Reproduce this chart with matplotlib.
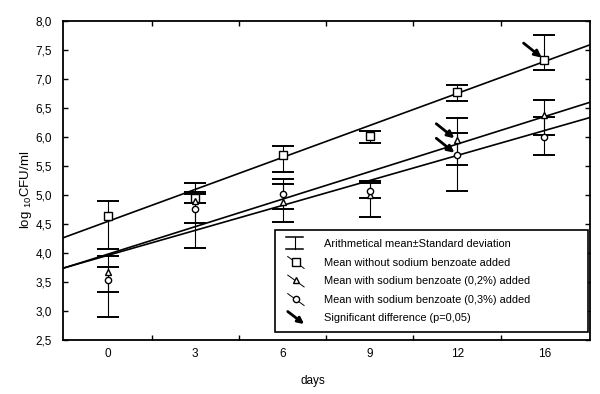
import numpy as np
import matplotlib
matplotlib.use('Agg')
import matplotlib.pyplot as plt
from matplotlib.lines import Line2D
from matplotlib.patches import FancyArrowPatch
from matplotlib.legend_handler import HandlerBase
from matplotlib.ticker import FuncFormatter, MultipleLocator, FixedLocator

plt.rcParams['font.family'] = ['Liberation Sans', 'DejaVu Sans']

days = ['0', '3', '6', '9', '12', '16']

# mean and lower/upper end of the bars (log10 CFU/ml)
no_sb_mean = [4.64, 4.95, 5.69, 6.02, 6.78, 7.33]
no_sb_lo = [4.07, 4.87, 5.39, 5.89, 6.62, 7.16]
no_sb_hi = [4.90, 5.05, 5.84, 6.10, 6.90, 7.76]

sb02_mean = [3.68, 4.90, 4.88, 5.00, 5.94, 6.38]
sb02_lo = [3.32, 4.09, 4.54, 4.62, 5.52, 6.03]
sb02_hi = [3.94, 5.20, 5.19, 5.24, 6.06, 6.64]

sb03_mean = [3.53, 4.75, 5.02, 5.06, 5.69, 6.00]
sb03_lo = [2.90, 4.52, 4.75, 4.94, 5.06, 5.69]
sb03_hi = [3.76, 5.02, 5.28, 5.21, 6.33, 6.35]

# regression lines (value at first day index, slope per index)
fit_intercept = [4.545, 3.98, 3.96]
fit_slope = [0.551, 0.474, 0.430]

# significant differences: (series, day index)
signif = [(0, 5), (1, 4), (2, 4)]

legend_labels = ['Arithmetical mean\u00b1Standard deviation',
                 'Mean without sodium benzoate added',
                 'Mean with sodium benzoate (0,2%) added',
                 'Mean with sodium benzoate (0,3%) added',
                 'Significant difference (p=0,05)']


class Key():
    def __init__(self, kind, marker=None, ms=4):
        self.kind = kind
        self.marker = marker
        self.ms = ms


class KeyHandler(HandlerBase):
    def create_artists(self, legend, h, xd, yd, w, ht, fs, trans):
        x0, x1 = -xd, -xd + w
        y0, y1 = -yd, -yd + ht
        xm, ym = (x0 + x1) / 2, (y0 + y1) / 2
        if h.kind == 'bar':
            arts = [Line2D([xm, xm], [y0 - 1.5, y1 + 1.5], color='black', lw=0.8),
                    Line2D([x0 + 2, x1 - 2], [y1 + 1.5, y1 + 1.5], color='black', lw=1.1),
                    Line2D([x0 + 2, x1 - 2], [y0 - 1.5, y0 - 1.5], color='black', lw=1.1)]
        elif h.kind == 'arrow':
            arts = [FancyArrowPatch((x0 + 3, y1 + 1.5), (x1 - 1, y0 - 2), arrowstyle='-|>',
                                    mutation_scale=9, lw=2, color='black', shrinkA=0, shrinkB=0)]
        else:
            arts = [Line2D([x0 + 3, x1 - 1], [y1 + 1, y0 - 2], color='black', lw=0.7),
                    Line2D([xm + 1], [ym], marker=h.marker, ms=h.ms, mfc='white',
                           mec='black', mew=1, ls='none')]
        for a in arts:
            a.set_transform(trans)
        return arts


fig = plt.figure(figsize=(6, 3.94), dpi=100)
ax = fig.add_axes([0.105, 0.137, 0.878, 0.81])

x = np.arange(len(days))
xlim = (-0.515, 5.52)
ax.set_xlim(xlim)
ax.set_ylim(2.5, 8.0)

series = [(no_sb_mean, no_sb_lo, no_sb_hi, 's', 5.5),
          (sb02_mean, sb02_lo, sb02_hi, '^', 4),
          (sb03_mean, sb03_lo, sb03_hi, 'o', 4.5)]

# fit lines
xs = np.array(xlim)
for b, m in zip(fit_intercept, fit_slope):
    ax.plot(xs, b + m * xs, color='black', lw=1.2, zorder=2)

for mean, lo, hi, mk, ms in series:
    mean = np.array(mean)
    err = [mean - np.array(lo), np.array(hi) - mean]
    ax.errorbar(x, mean, yerr=err, fmt='none', ecolor='black', elinewidth=0.8,
                capsize=8, capthick=1.4, zorder=3)
for mean, lo, hi, mk, ms in series:
    ax.plot(x, mean, ls='none', marker=mk, ms=ms, mfc='white', mec='black', mew=1, zorder=4)

for s, i in signif:
    yv = series[s][0][i]
    ax.annotate('', xy=(x[i], yv), xytext=(-15, 12), textcoords='offset points',
                arrowprops=dict(arrowstyle='-|>', lw=2, color='black', mutation_scale=10,
                                shrinkA=0, shrinkB=2.5), zorder=5)

# axes styling
ax.xaxis.set_major_locator(FixedLocator(x))
ax.set_xticklabels(days)
ax.xaxis.set_minor_locator(FixedLocator(x[:-1] + 0.5))
ax.tick_params(axis='x', which='major', length=0, pad=6, labelsize=8.5)
ax.tick_params(axis='x', which='minor', direction='in', length=3.5, width=1, top=True, bottom=True)
ax.yaxis.set_major_locator(MultipleLocator(0.5))
ax.yaxis.set_major_formatter(FuncFormatter(lambda v, p: ('%.1f' % v).replace('.', ',')))
ax.tick_params(axis='y', direction='in', length=3.5, width=1, left=True, right=True,
               pad=8, labelsize=8.5)
for sp in ax.spines.values():
    sp.set_linewidth(1.3)

ax.set_xlabel('days', fontsize=8.5)
ax.xaxis.set_label_coords(0.475, -0.11)
ax.set_ylabel(r'log $_{\mathregular{10}}$CFU/ml', fontsize=9.5)
ax.yaxis.set_label_coords(-0.055, 0.47)

handles = [Key('bar'), Key('m', 's', 5.5), Key('m', '^', 4), Key('m', 'o', 4.5), Key('arrow')]
leg = ax.legend(handles, legend_labels, handler_map={Key: KeyHandler()},
                loc='lower left', bbox_to_anchor=(0.402, 0.025, 0.594, 0.32), mode='expand',
                fontsize=7.9, frameon=True, fancybox=False, framealpha=1,
                edgecolor='black', handlelength=2.0, handletextpad=1.7,
                labelspacing=0.78, borderpad=0.8, borderaxespad=0)
leg.get_frame().set_linewidth(1.2)

fig.savefig('out.png', dpi=100)
